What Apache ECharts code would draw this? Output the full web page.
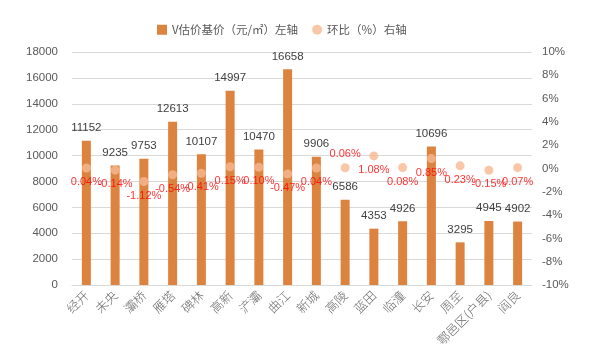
<!DOCTYPE html>
<html><head><meta charset="utf-8">
<script src="https://cdn.jsdelivr.net/npm/echarts@6/dist/echarts.min.js"></script>
<style>html,body{margin:0;padding:0;background:#fff}#c{width:596px;height:361px}</style>
</head><body><div id="c"></div>
<script>
const categories = ['经开','未央','灞桥','雁塔','碑林','高新','浐灞','曲江','新城','高陵','蓝田','临潼','长安','周至','鄠邑区(户县)','阎良'];
const priceValues = [11152,9235,9753,12613,10107,14997,10470,16658,9906,6586,4353,4926,10696,3295,4945,4902];
const ratioValues = [0.04,-0.14,-1.12,-0.54,-0.41,0.15,0.10,-0.47,0.04,0.06,1.08,0.08,0.85,0.23,-0.15,0.07];
const leftTicks = {min:0,max:18000,interval:2000};
const rightTicks = {min:-10,max:10,interval:2};
const labelAbove = ['高陵'];

const FONT = '"Liberation Sans","Noto Sans CJK SC",sans-serif';
const chart = echarts.init(document.getElementById('c'));
chart.setOption({
  animation:false,
  textStyle:{fontFamily:FONT},
  legend:{
    top:19, left:152, itemGap:14, itemWidth:10, itemHeight:10,
    textStyle:{color:'#595959',fontSize:11.5,fontFamily:'"Noto Sans CJK SC",sans-serif'},
    data:[{name:'V估价基价（元/㎡）左轴',icon:'rect'},{name:'环比（%）右轴',icon:'circle'}]
  },
  grid:{left:72,right:64,top:52,bottom:76},
  xAxis:{
    type:'category', data:categories,
    axisLine:{lineStyle:{color:'#d9d9d9'}}, axisTick:{show:false},
    axisLabel:{rotate:45,interval:0,color:'#6a6a6a',fontSize:12.5,fontWeight:300,fontFamily:'"Noto Sans CJK SC",sans-serif',margin:8}
  },
  yAxis:[
    {type:'value',min:leftTicks.min,max:leftTicks.max,interval:leftTicks.interval,
     axisLine:{show:false},axisTick:{show:false},
     axisLabel:{color:'#595959',fontSize:11.5,margin:14,formatter:v=>String(v)},
     splitLine:{lineStyle:{color:'#d9d9d9'}}},
    {type:'value',min:rightTicks.min,max:rightTicks.max,interval:rightTicks.interval,
     axisLine:{show:false},axisTick:{show:false},
     axisLabel:{color:'#595959',fontSize:11.5,margin:10,formatter:'{value}%'},
     splitLine:{show:false}}
  ],
  series:[
    {name:'V估价基价（元/㎡）左轴',type:'bar',data:priceValues,barWidth:9,
     itemStyle:{color:'#dc833f'},
     label:{show:true,position:'top',distance:7,color:'#404040',fontSize:11.5}},
    {name:'环比（%）右轴',type:'scatter',yAxisIndex:1,symbolSize:9,z:5,
     itemStyle:{color:'#f7b992'},
     data:ratioValues.map((v,i)=>({value:v,label:{position:labelAbove.includes(categories[i])?'top':'bottom'}})),
     label:{show:true,distance:4,color:'#ff0000',fontSize:11,
       formatter:p=>p.value.toFixed(2)+'%'}}
  ]
});
</script></body></html>
